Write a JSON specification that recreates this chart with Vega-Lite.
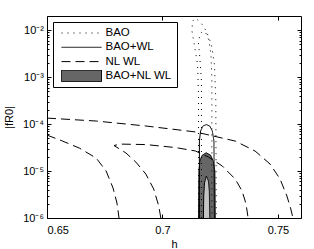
{
  "$schema": "https://vega.github.io/schema/vega-lite/v6.json",
  "width": 254,
  "height": 202,
  "autosize": {"type": "pad"},
  "padding": {"left": 3, "top": 15, "right": 9, "bottom": 0},
  "config": {
    "font": "Liberation Sans",
    "view": {"stroke": "#000", "strokeWidth": 1},
    "axis": {"domain": false, "grid": false, "tickColor": "#000", "labelColor": "#000", "titleColor": "#000", "labelFontSize": 11, "titleFontSize": 11, "titleFontWeight": "normal", "labelFont": "Liberation Sans", "titleFont": "Liberation Sans"},
    "legend": {"orient": "top-left", "offset": 6, "padding": 5, "strokeColor": "#000", "fillColor": "#fff", "symbolType": "stroke", "symbolSize": 1600, "symbolStrokeWidth": 1, "symbolStrokeColor": "#000", "clipHeight": 12, "rowPadding": 2.3, "labelFontSize": 11.5, "labelFont": "Liberation Sans", "labelColor": "#000", "labelOffset": 3.5, "symbolOffset": 3, "labelLimit": 200}
  },
  "data": {"values": [
    {"c":"A","s":"NL WL","i":0,"h":0.65,"f":1.34e-4},
    {"c":"A","s":"NL WL","i":1,"h":0.6713,"f":1.16e-4},
    {"c":"A","s":"NL WL","i":2,"h":0.6928,"f":9.1e-5},
    {"c":"A","s":"NL WL","i":3,"h":0.7143,"f":6.8e-5},
    {"c":"A","s":"NL WL","i":4,"h":0.7315,"f":4.35e-5},
    {"c":"A","s":"NL WL","i":5,"h":0.7401,"f":2.67e-5},
    {"c":"A","s":"NL WL","i":6,"h":0.7466,"f":1.41e-5},
    {"c":"A","s":"NL WL","i":7,"h":0.7509,"f":6.8e-6},
    {"c":"A","s":"NL WL","i":8,"h":0.7539,"f":2.94e-6},
    {"c":"A","s":"NL WL","i":9,"h":0.7556,"f":1.55e-6},
    {"c":"A","s":"NL WL","i":10,"h":0.7565,"f":1e-6},
    {"c":"B","s":"NL WL","i":0,"h":0.65,"f":5.83e-5},
    {"c":"B","s":"NL WL","i":1,"h":0.6567,"f":4.35e-5},
    {"c":"B","s":"NL WL","i":2,"h":0.664,"f":3.08e-5},
    {"c":"B","s":"NL WL","i":3,"h":0.6713,"f":1.89e-5},
    {"c":"B","s":"NL WL","i":4,"h":0.6756,"f":1e-5},
    {"c":"B","s":"NL WL","i":5,"h":0.6786,"f":4.35e-6},
    {"c":"B","s":"NL WL","i":6,"h":0.6803,"f":2.08e-6},
    {"c":"B","s":"NL WL","i":7,"h":0.6812,"f":1e-6},
    {"c":"C","s":"NL WL","i":0,"h":0.6993,"f":1e-6},
    {"c":"C","s":"NL WL","i":1,"h":0.6984,"f":1.8e-6},
    {"c":"C","s":"NL WL","i":2,"h":0.6962,"f":4.14e-6},
    {"c":"C","s":"NL WL","i":3,"h":0.6928,"f":8.63e-6},
    {"c":"C","s":"NL WL","i":4,"h":0.6885,"f":1.55e-5},
    {"c":"C","s":"NL WL","i":5,"h":0.6842,"f":2.42e-5},
    {"c":"C","s":"NL WL","i":6,"h":0.6808,"f":3.08e-5},
    {"c":"C","s":"NL WL","i":7,"h":0.679,"f":3.49e-5},
    {"c":"C","s":"NL WL","i":8,"h":0.6816,"f":3.75e-5},
    {"c":"C","s":"NL WL","i":9,"h":0.6928,"f":3.66e-5},
    {"c":"C","s":"NL WL","i":10,"h":0.7057,"f":3.16e-5},
    {"c":"C","s":"NL WL","i":11,"h":0.7143,"f":2.67e-5},
    {"c":"C","s":"NL WL","i":12,"h":0.7199,"f":1.99e-5},
    {"c":"C","s":"NL WL","i":13,"h":0.7259,"f":1.28e-5},
    {"c":"C","s":"NL WL","i":14,"h":0.7315,"f":6.76e-6},
    {"c":"C","s":"NL WL","i":15,"h":0.7345,"f":3.75e-6},
    {"c":"C","s":"NL WL","i":16,"h":0.7362,"f":1.99e-6},
    {"c":"C","s":"NL WL","i":17,"h":0.7371,"f":1e-6},
    {"c":"BAO2","s":"BAO","i":0,"h":0.7156,"f":1e-6},
    {"c":"BAO2","s":"BAO","i":1,"h":0.7156,"f":4.35e-4},
    {"c":"BAO2","s":"BAO","i":2,"h":0.7152,"f":1.89e-3},
    {"c":"BAO2","s":"BAO","i":3,"h":0.7139,"f":4.57e-3},
    {"c":"BAO2","s":"BAO","i":4,"h":0.7128,"f":9.52e-3},
    {"c":"BAO2","s":"BAO","i":5,"h":0.713,"f":1.55e-2},
    {"c":"BAO2","s":"BAO","i":6,"h":0.7143,"f":1.8e-2},
    {"c":"BAO2","s":"BAO","i":7,"h":0.7165,"f":1.48e-2},
    {"c":"BAO2","s":"BAO","i":8,"h":0.719,"f":9.52e-3},
    {"c":"BAO2","s":"BAO","i":9,"h":0.7212,"f":5.04e-3},
    {"c":"BAO2","s":"BAO","i":10,"h":0.7225,"f":1.89e-3},
    {"c":"BAO2","s":"BAO","i":11,"h":0.7231,"f":3.4e-4},
    {"c":"BAO2","s":"BAO","i":12,"h":0.7233,"f":1e-6},
    {"c":"BAO1","s":"BAO","i":0,"h":0.7169,"f":1e-6},
    {"c":"BAO1","s":"BAO","i":1,"h":0.7169,"f":8.22e-4},
    {"c":"BAO1","s":"BAO","i":2,"h":0.7162,"f":2.54e-3},
    {"c":"BAO1","s":"BAO","i":3,"h":0.7156,"f":5.28e-3},
    {"c":"BAO1","s":"BAO","i":4,"h":0.7162,"f":8.22e-3},
    {"c":"BAO1","s":"BAO","i":5,"h":0.7175,"f":9.52e-3},
    {"c":"BAO1","s":"BAO","i":6,"h":0.7188,"f":8.63e-3},
    {"c":"BAO1","s":"BAO","i":7,"h":0.7201,"f":6.12e-3},
    {"c":"BAO1","s":"BAO","i":8,"h":0.721,"f":3.08e-3},
    {"c":"BAO1","s":"BAO","i":9,"h":0.7214,"f":9.52e-4},
    {"c":"BAO1","s":"BAO","i":10,"h":0.7214,"f":1e-6},
    {"c":"BW2","s":"BAO+WL","i":0,"h":0.716,"f":1e-6},
    {"c":"BW2","s":"BAO+WL","i":1,"h":0.716,"f":4.35e-5},
    {"c":"BW2","s":"BAO+WL","i":2,"h":0.7165,"f":7.1e-5},
    {"c":"BW2","s":"BAO+WL","i":3,"h":0.7175,"f":9.06e-5},
    {"c":"BW2","s":"BAO+WL","i":4,"h":0.719,"f":9.75e-5},
    {"c":"BW2","s":"BAO+WL","i":5,"h":0.7205,"f":9.06e-5},
    {"c":"BW2","s":"BAO+WL","i":6,"h":0.7216,"f":7.1e-5},
    {"c":"BW2","s":"BAO+WL","i":7,"h":0.7223,"f":4.35e-5},
    {"c":"BW2","s":"BAO+WL","i":8,"h":0.7225,"f":1e-6},
    {"c":"F2","s":"BAO+NL WL","i":0,"h":0.71567,"f":1e-6},
    {"c":"F2","s":"BAO+NL WL","i":1,"h":0.71581,"f":1e-5},
    {"c":"F2","s":"BAO+NL WL","i":2,"h":0.7162,"f":1.63e-5},
    {"c":"F2","s":"BAO+NL WL","i":3,"h":0.7171,"f":2.14e-5},
    {"c":"F2","s":"BAO+NL WL","i":4,"h":0.7189,"f":2.45e-5},
    {"c":"F2","s":"BAO+NL WL","i":5,"h":0.7208,"f":2.19e-5},
    {"c":"F2","s":"BAO+NL WL","i":6,"h":0.722,"f":1.63e-5},
    {"c":"F2","s":"BAO+NL WL","i":7,"h":0.7227,"f":1e-5},
    {"c":"F2","s":"BAO+NL WL","i":8,"h":0.7229,"f":1e-6},
    {"c":"F1","s":"BAO+NL WL","i":0,"h":0.71774,"f":1e-6},
    {"c":"F1","s":"BAO+NL WL","i":1,"h":0.71787,"f":2.94e-6},
    {"c":"F1","s":"BAO+NL WL","i":2,"h":0.7182,"f":5.56e-6},
    {"c":"F1","s":"BAO+NL WL","i":3,"h":0.719,"f":7.83e-6},
    {"c":"F1","s":"BAO+NL WL","i":4,"h":0.7199,"f":6.12e-6},
    {"c":"F1","s":"BAO+NL WL","i":5,"h":0.7203,"f":3.75e-6},
    {"c":"F1","s":"BAO+NL WL","i":6,"h":0.7205,"f":1e-6}
  ]},
  "resolve": {"axis": {"x": "independent", "y": "independent"}},
  "layer": [
    {
      "transform": [{"filter": "datum.c === 'F2'"}],
      "mark": {"type": "area", "color": "#666666", "clip": true},
      "encoding": {
        "x": {"field": "h", "type": "quantitative", "scale": {"domain": [0.65, 0.76], "nice": false, "zero": false},
              "axis": {"orient": "bottom", "values": [0.65, 0.7, 0.75], "format": ".2~f", "tickSize": -4, "labelPadding": 10, "title": "h", "titlePadding": 3}},
        "y": {"field": "f", "type": "quantitative", "scale": {"type": "log", "domain": [1e-6, 0.02], "nice": false},
              "axis": {"orient": "left", "values": [1e-6, 1e-5, 1e-4, 1e-3, 1e-2], "labelExpr": "'10' + ['⁻⁶','⁻⁵','⁻⁴','⁻³','⁻²'][round(log(datum.value)/LN10)+6]", "tickSize": -4, "labelPadding": 7.5, "title": "|fR0|", "titlePadding": 8}},
        "y2": {"datum": 1e-6}
      }
    },
    {
      "transform": [{"filter": "datum.c === 'F1'"}],
      "mark": {"type": "area", "color": "#c4c4c4", "clip": true},
      "encoding": {
        "x": {"field": "h", "type": "quantitative", "axis": {"orient": "top", "values": [0.65, 0.7, 0.75], "labels": false, "tickSize": -4, "title": null}},
        "y": {"field": "f", "type": "quantitative", "axis": {"orient": "right", "values": [1e-6, 1e-5, 1e-4, 1e-3, 1e-2], "labels": false, "tickSize": -4, "title": null}},
        "y2": {"datum": 1e-6}
      }
    },
    {
      "transform": [{"filter": "datum.s === 'BAO' || datum.s === 'NL WL'"}],
      "mark": {"type": "line", "color": "#000", "strokeWidth": 1, "clip": true},
      "encoding": {
        "x": {"field": "h", "type": "quantitative", "axis": null},
        "y": {"field": "f", "type": "quantitative", "axis": {"orient": "left", "values": [2e-6,3e-6,4e-6,5e-6,6e-6,7e-6,8e-6,9e-6,2e-5,3e-5,4e-5,5e-5,6e-5,7e-5,8e-5,9e-5,2e-4,3e-4,4e-4,5e-4,6e-4,7e-4,8e-4,9e-4,2e-3,3e-3,4e-3,5e-3,6e-3,7e-3,8e-3,9e-3], "labels": false, "tickSize": -2, "title": null}},
        "strokeDash": {"field": "s", "type": "nominal", "scale": {"domain": ["BAO", "BAO+WL", "NL WL", "BAO+NL WL"], "range": [[1,5],[1,0],[9,5],[1,0]]},
                       "legend": {"title": null, "encode": {"symbols": {"update": {"shape": {"signal": "datum.value === 'BAO+NL WL' ? 'M-1,-0.29H1V0.29H-1Z' : 'stroke'"}, "fill": {"signal": "datum.value === 'BAO+NL WL' ? '#666666' : 'transparent'"}, "stroke": {"value": "#000"}}}}}},
        "detail": {"field": "c"},
        "order": {"field": "i", "type": "quantitative"}
      }
    },
    {
      "transform": [{"filter": "datum.s === 'BAO+WL' || datum.s === 'BAO+NL WL'"}],
      "mark": {"type": "line", "color": "#000", "strokeWidth": 1, "clip": true},
      "encoding": {
        "x": {"field": "h", "type": "quantitative", "axis": null},
        "y": {"field": "f", "type": "quantitative", "axis": {"orient": "right", "values": [2e-6,3e-6,4e-6,5e-6,6e-6,7e-6,8e-6,9e-6,2e-5,3e-5,4e-5,5e-5,6e-5,7e-5,8e-5,9e-5,2e-4,3e-4,4e-4,5e-4,6e-4,7e-4,8e-4,9e-4,2e-3,3e-3,4e-3,5e-3,6e-3,7e-3,8e-3,9e-3], "labels": false, "tickSize": -2, "title": null}},
        "strokeDash": {"field": "s", "type": "nominal", "scale": {"domain": ["BAO", "BAO+WL", "NL WL", "BAO+NL WL"], "range": [[1,5],[1,0],[9,5],[1,0]]},
                       "legend": {"title": null, "encode": {"symbols": {"update": {"shape": {"signal": "datum.value === 'BAO+NL WL' ? 'M-1,-0.29H1V0.29H-1Z' : 'stroke'"}, "fill": {"signal": "datum.value === 'BAO+NL WL' ? '#666666' : 'transparent'"}, "stroke": {"value": "#000"}}}}}},
        "detail": {"field": "c"},
        "order": {"field": "i", "type": "quantitative"}
      }
    }
  ]
}
